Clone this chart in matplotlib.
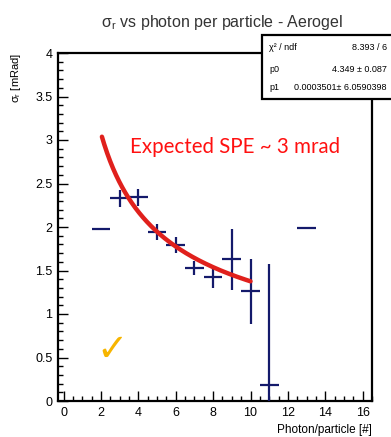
import matplotlib
matplotlib.use("Agg")
import matplotlib.pyplot as plt
import numpy as np
from matplotlib.ticker import MultipleLocator, FormatStrFormatter
from matplotlib.patches import Rectangle

# --- data ---------------------------------------------------------------
photons = [2, 3, 4, 5, 6, 7, 8, 9, 10, 11, 13]
sigma = [1.98, 2.33, 2.34, 1.94, 1.79, 1.53, 1.42, 1.63, 1.26, 0.18, 1.99]
sigma_err = [0.0, 0.10, 0.10, 0.09, 0.09, 0.08, 0.12, 0.35, 0.37, 1.40, 0.0]
photon_err = [0.5] * len(photons)

# fit parameters shown in the stats box: f(x) = p0 / sqrt(x) + p1
p0 = 4.349
p1 = 0.0003501
fit_range = (2.05, 10.0)

stats_rows = [("χ² / ndf", "8.393 / 6"),
              ("p0", "4.349 ± 0.087"),
              ("p1", "0.0003501± 6.0590398")]

W, H = 391, 437
fig = plt.figure(figsize=(W / 100, H / 100), dpi=100)
plt.rcParams["font.family"] = ["Liberation Sans", "DejaVu Sans"]

L, R, T, B = 58, 372, 53, 401
ax = fig.add_axes([L / W, (H - B) / H, (R - L) / W, (B - T) / H])

navy = "#141a6b"
ax.errorbar(photons, sigma, xerr=photon_err, yerr=sigma_err, fmt="none",
            ecolor=navy, elinewidth=1.6, capsize=0, zorder=3)

xf = np.linspace(fit_range[0], fit_range[1], 200)
ax.plot(xf, p0 / np.sqrt(xf) + p1, color="#e0201c", lw=3.2,
        solid_capstyle="round", zorder=4)

ax.set_xlim(-0.3, 16.5)
ax.set_ylim(0, 4)
ax.xaxis.set_major_locator(MultipleLocator(2))
ax.xaxis.set_minor_locator(MultipleLocator(0.5))
ax.yaxis.set_major_locator(MultipleLocator(0.5))
ax.yaxis.set_minor_locator(MultipleLocator(0.1))
ax.yaxis.set_major_formatter(FormatStrFormatter("%g"))
ax.tick_params(which="both", direction="in", top=False, right=False,
               width=1.0, labelsize=9, colors="black")
ax.tick_params(which="major", length=7, pad=4)
ax.tick_params(which="minor", length=3.5)
for s in ax.spines.values():
    s.set_linewidth(1.6)

ax.set_xlabel("Photon/particle [#]", fontsize=8.5, loc="right")
ax.xaxis.set_label_coords(1.0, -0.065)
ax.set_ylabel(r"σ$_\mathregular{r}$ [mRad]", fontsize=8, loc="top")
ax.yaxis.set_label_coords(-0.112, 1.0)

ax.text(3.55, 2.92, "Expected SPE ~ 3 mrad", color="#ff1010", fontsize=14.8,
        family=["Lato", "DejaVu Sans"], va="center", ha="left")
ax.text(2.6, 0.58, "✓", color="#f7b500", fontsize=27,
        family=["DejaVu Sans"], ha="center", va="center")

fig.text(0.568, 1 - 22 / H, r"σ$_\mathregular{r}$ vs photon per particle - Aerogel",
         ha="center", va="center", fontsize=11.5, color="#333333")

# stats box (runs off the right edge of the figure)
bx0, by0, bx1, by1 = 262, 35, 460, 99
fig.patches.append(Rectangle((bx0 / W, 1 - by1 / H), (bx1 - bx0) / W,
                             (by1 - by0) / H, transform=fig.transFigure,
                             facecolor="white", edgecolor="black", lw=1.6,
                             zorder=5))
row_y = [47, 69, 88]
for (name, val), yy in zip(stats_rows, row_y):
    fig.text(269 / W, 1 - yy / H, name, fontsize=6.5, va="center", zorder=6)
    fig.text(387 / W, 1 - yy / H, val, fontsize=6.5, va="center", ha="right",
             zorder=6)

fig.savefig("out.png", dpi=100)
